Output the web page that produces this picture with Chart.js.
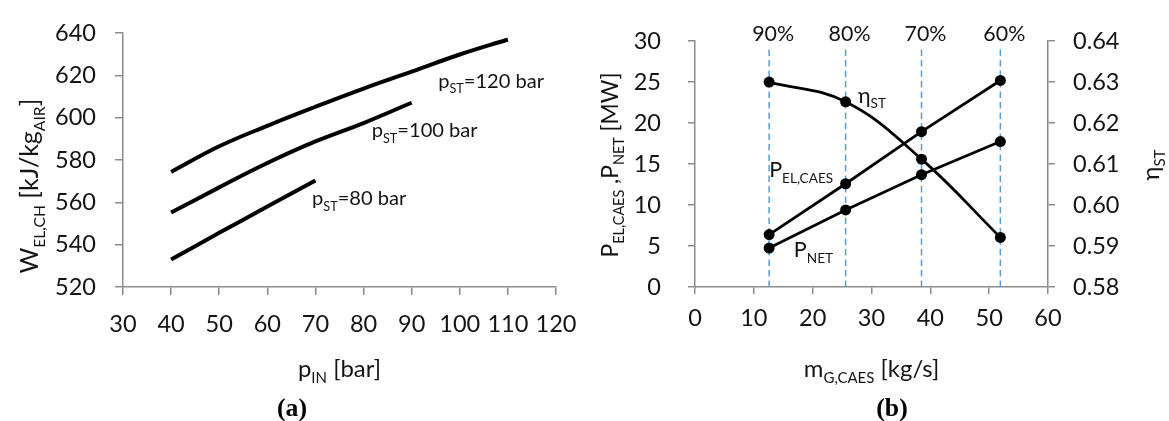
<!DOCTYPE html>
<html><head><meta charset="utf-8">
<script src="https://cdn.jsdelivr.net/npm/chart.js@4"></script>
<style>
html,body{margin:0;padding:0;background:#fff;}
#wrap{position:relative;width:1169px;height:421px;overflow:hidden;}
canvas{position:absolute;top:0;}
</style></head><body>
<div id="wrap">
<canvas id="ca" width="600" height="421" style="left:0"></canvas>
<canvas id="cb" width="569" height="421" style="left:600px"></canvas>
</div>
<script>
// ---------- data (panel a) ----------
const pIn = [40, 50, 60, 70, 80, 90, 100, 110];
const w120 = [574.4, 586.5, 596.2, 605.2, 613.8, 621.8, 629.9, 637.0];
const w100 = [555.2, 567.1, 578.6, 588.8, 597.5, 607.1];
const w80 = [533.0, 545.6, 558.0, 570.3];
const seriesLabelsA = ['120 bar', '100 bar', '80 bar'];

// ---------- data (panel b) ----------
const mG = [12.6, 25.6, 38.5, 51.9];
const pElCaes = [6.4, 12.6, 18.95, 25.2];
const pNet = [4.75, 9.4, 13.7, 17.75];
const etaSt = [0.6300, 0.6252, 0.6112, 0.5921];
const loadLabels = ['90%', '80%', '70%', '60%'];

// ---------- style ----------
const FONT = 'Lato, "Open Sans", sans-serif';
const SERIF = '"Liberation Serif", serif';
const TXT = '#141414';
const AX = '#8c8c8c';
const DASH = '#5b9bd5';
Chart.defaults.font.family = FONT;
Chart.defaults.color = TXT;

const mctx = document.createElement('canvas').getContext('2d');
function richWidth(parts, size, fam, weight) {
  let w = 0;
  parts.forEach(([t, s]) => { mctx.font = `${weight || ''} ${s ? size * 0.63 : size}px ${fam || FONT}`; w += mctx.measureText(t).width; });
  return w;
}
function fit(parts, target, fam, weight) { return 100 * target / richWidth(parts, 100, fam, weight); }

function pts(xs, ys) { return ys.map((y, i) => ({ x: xs[i], y })); }

function drawRich(ctx, parts, x, y, o) {
  const size = o.size, sub = size * 0.63;
  const fam = o.family || FONT;
  ctx.save();
  ctx.translate(x, y);
  if (o.rotate) ctx.rotate(o.rotate);
  ctx.fillStyle = o.color || TXT;
  ctx.textBaseline = 'alphabetic';
  ctx.textAlign = 'left';
  const w = parts.map(([t, s]) => { ctx.font = `${o.weight || ''} ${s ? sub : size}px ${fam}`; return ctx.measureText(t).width; });
  const total = w.reduce((a, b) => a + b, 0);
  let cx = o.align === 'center' ? -total / 2 : (o.align === 'right' ? -total : 0);
  parts.forEach(([t, s], i) => {
    ctx.font = `${o.weight || ''} ${s ? sub : size}px ${fam}`;
    ctx.fillText(t, cx, s ? size * 0.27 : 0);
    cx += w[i];
  });
  ctx.restore();
}

function axisStyle(tl, extra) {
  return Object.assign({
    border: { display: true, color: AX, width: 1.5 },
    grid: { display: true, drawOnChartArea: false, drawTicks: true, tickLength: tl, color: AX, lineWidth: 1.5 },
  }, extra);
}

// text parts
const titleAy = [['W', 0], ['EL,CH', 1], [' [kJ/kg', 0], ['AIR', 1], [']', 0]];
const titleAx = [['p', 0], ['IN', 1], [' [bar]', 0]];
const titleBy = [['P', 0], ['EL,CAES', 1], [' ,P', 0], ['NET', 1], [' [MW]', 0]];
const titleBy1 = [['η', 0], ['ST', 1]];
const titleBx = [['m', 0], ['G,CAES', 1], [' [kg/s]', 0]];
const annA = seriesLabelsA.map(s => [['p', 0], ['ST', 1], ['=' + s, 0]]);
const annAPos = [{ x: 95.5, y: 614.2 }, { x: 81.7, y: 590.7 }, { x: 69.3, y: 558.6 }];
const annB = [[['η', 0], ['ST', 1]], [['P', 0], ['EL,CAES', 1]], [['P', 0], ['NET', 1]]];
const annBPos = [{ x: 27.7, y: 22.5 }, { x: 12.6, y: 13.4 }, { x: 16.8, y: 3.6 }];

// font sizes fitted to the reference text extents
const SZ_TICK = Math.min(24, fit([['640', 0]], 41));
const SZ_ANN_A = fit(annA[1], 106);
const SZ_ANN_B = fit(annB[1], 64);
const SZ_PCT = fit([['90%', 0]], 42);
const SZ_TY_A = fit(titleAy, 175);
const SZ_TY_B = fit(titleBy, 185);
const SZ_TITLE = (SZ_TY_A + SZ_TY_B) / 2;
const SZ_CAP = fit([['(a)', 0]], 30, SERIF, 'bold');

// ---------- panel (a) ----------
const textA = {
  id: 'textA',
  afterDraw(chart) {
    const { ctx, chartArea: a, scales } = chart;
    annA.forEach((p, i) => drawRich(ctx, p, scales.x.getPixelForValue(annAPos[i].x), scales.y.getPixelForValue(annAPos[i].y), { size: SZ_ANN_A }));
    drawRich(ctx, titleAy, a.left - 85, a.top + 153, { size: SZ_TY_A, rotate: -Math.PI / 2, align: 'center' });
    drawRich(ctx, titleAx, (a.left + a.right) / 2, a.bottom + 90, { size: SZ_TITLE, align: 'center' });
    drawRich(ctx, [['(a)', 0]], 292, 416, { size: SZ_CAP, align: 'center', family: SERIF, weight: 'bold', color: '#000' });
  }
};

new Chart(document.getElementById('ca'), {
  type: 'line',
  data: {
    datasets: [
      { data: pts(pIn, w120) },
      { data: pts(pIn, w100) },
      { data: pts(pIn, w80) },
    ].map(d => Object.assign(d, { borderColor: '#000', borderWidth: 4, pointRadius: 0, tension: 0.4, fill: false, borderCapStyle: 'butt' }))
  },
  options: {
    responsive: false, animation: false, events: [],
    layout: { padding: { left: 0, top: 23, right: 44, bottom: 0 } },
    plugins: { legend: { display: false }, tooltip: { enabled: false } },
    scales: {
      x: axisStyle(8, { type: 'linear', min: 30, max: 120, ticks: { stepSize: 10, padding: 15, font: { size: SZ_TICK }, color: TXT },
        afterFit(s) { s.height = 134; } }),
      y: axisStyle(8, { type: 'linear', min: 520, max: 640, ticks: { stepSize: 20, padding: 19, font: { size: SZ_TICK }, color: TXT },
        afterFit(s) { s.width = 123; } }),
    }
  },
  plugins: [textA]
});

// ---------- panel (b) ----------
const dashTop = 29.4;
const textB = {
  id: 'textB',
  afterDraw(chart) {
    const { ctx, chartArea: a, scales } = chart;
    annB.forEach((p, i) => drawRich(ctx, p, scales.x.getPixelForValue(annBPos[i].x), scales.y.getPixelForValue(annBPos[i].y), { size: SZ_ANN_B }));
    loadLabels.forEach((t, i) => drawRich(ctx, [[t, 0]], scales.x.getPixelForValue(mG[i]) + 4, a.top, { size: SZ_PCT, align: 'center' }));
    drawRich(ctx, titleBy, a.left - 77, (a.top + a.bottom) / 2 + 1, { size: SZ_TY_B, rotate: -Math.PI / 2, align: 'center' });
    drawRich(ctx, titleBy1, a.right + 111, (a.top + a.bottom) / 2 + 1, { size: SZ_TITLE, rotate: -Math.PI / 2, align: 'center' });
    drawRich(ctx, titleBx, (a.left + a.right) / 2, a.bottom + 90, { size: SZ_TITLE, align: 'center' });
    drawRich(ctx, [['(b)', 0]], 892 - 600, 416, { size: SZ_CAP, align: 'center', family: SERIF, weight: 'bold', color: '#000' });
  }
};

const lineB = { borderColor: '#000', borderWidth: 2.75, pointRadius: 5.5, pointBackgroundColor: '#000', pointBorderColor: '#000', pointBorderWidth: 0, fill: false };
const dashSets = mG.map(x => ({
  data: [{ x, y: 0 }, { x, y: dashTop }], yAxisID: 'y',
  borderColor: DASH, borderWidth: 1.5, borderDash: [6.5, 4], pointRadius: 0, tension: 0, fill: false
}));

new Chart(document.getElementById('cb'), {
  type: 'line',
  data: {
    datasets: [
      Object.assign({ data: pts(mG, etaSt), yAxisID: 'y1', tension: 0.4 }, lineB),
      Object.assign({ data: pts(mG, pElCaes), yAxisID: 'y', tension: 0 }, lineB),
      Object.assign({ data: pts(mG, pNet), yAxisID: 'y', tension: 0 }, lineB),
      ...dashSets
    ]
  },
  options: {
    responsive: false, animation: false, events: [],
    layout: { padding: { left: 0, top: 40, right: 0, bottom: 0 } },
    plugins: { legend: { display: false }, tooltip: { enabled: false } },
    scales: {
      x: axisStyle(7, { type: 'linear', min: 0, max: 60, ticks: { stepSize: 10, padding: 10, font: { size: SZ_TICK }, color: TXT },
        afterFit(s) { s.height = 134; } }),
      y: axisStyle(7, { type: 'linear', position: 'left', min: 0, max: 30, ticks: { stepSize: 5, padding: 27, font: { size: SZ_TICK }, color: TXT },
        afterFit(s) { s.width = 95; } }),
      y1: axisStyle(7, { type: 'linear', position: 'right', min: 0.58, max: 0.64, ticks: { stepSize: 0.01, padding: 18, font: { size: SZ_TICK }, color: TXT, callback: v => v.toFixed(2) },
        afterFit(s) { s.width = 121; } }),
    }
  },
  plugins: [textB]
});
</script>
</body></html>
